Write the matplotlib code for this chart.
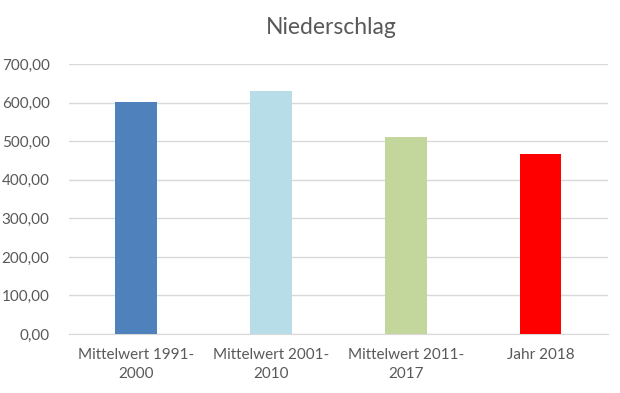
import matplotlib
matplotlib.use("Agg")
import matplotlib.pyplot as plt
from matplotlib.ticker import FuncFormatter

# ===== Daten =====
kategorien = ["Mittelwert 1991-\n2000", "Mittelwert 2001-\n2010", "Mittelwert 2011-\n2017", "Jahr 2018"]
niederschlag = [601, 631, 511, 467]
farben = ["#4F81BD", "#B7DDE8", "#C3D69B", "#FF0000"]
y_ticks = [0, 100, 200, 300, 400, 500, 600, 700]

TEXT_GRAU = "#595959"
GRID_GRAU = "#D9D9D9"

plt.rcParams["font.family"] = ["Lato", "DejaVu Sans"]

fig = plt.figure(figsize=(6.2, 3.93), dpi=100)
ax = fig.add_axes([0.1113, 0.150, 0.8693, 0.687])

x = range(len(kategorien))
ax.bar(x, niederschlag, width=0.31, color=farben, zorder=3)

ax.set_xlim(-0.5, len(kategorien) - 0.5)
ax.set_ylim(0, 700)
ax.set_yticks(y_ticks)
ax.yaxis.set_major_formatter(FuncFormatter(lambda v, p: f"{v:,.2f}".replace(",", "X").replace(".", ",").replace("X", ".")))
ax.set_xticks(list(x))
ax.set_xticklabels(kategorien, linespacing=1.45)

ax.grid(axis="y", color=GRID_GRAU, linewidth=1, zorder=0)
for s in ["top", "right", "left"]:
    ax.spines[s].set_visible(False)
ax.spines["bottom"].set_color(GRID_GRAU)
ax.tick_params(axis="both", length=0, colors=TEXT_GRAU, labelsize=11)
ax.tick_params(axis="y", pad=14)
ax.tick_params(axis="x", pad=10)

fig.text(0.534, 0.931, "Niederschlag", ha="center", va="center", fontsize=16.5, color=TEXT_GRAU)

fig.savefig("out.png", dpi=100)
